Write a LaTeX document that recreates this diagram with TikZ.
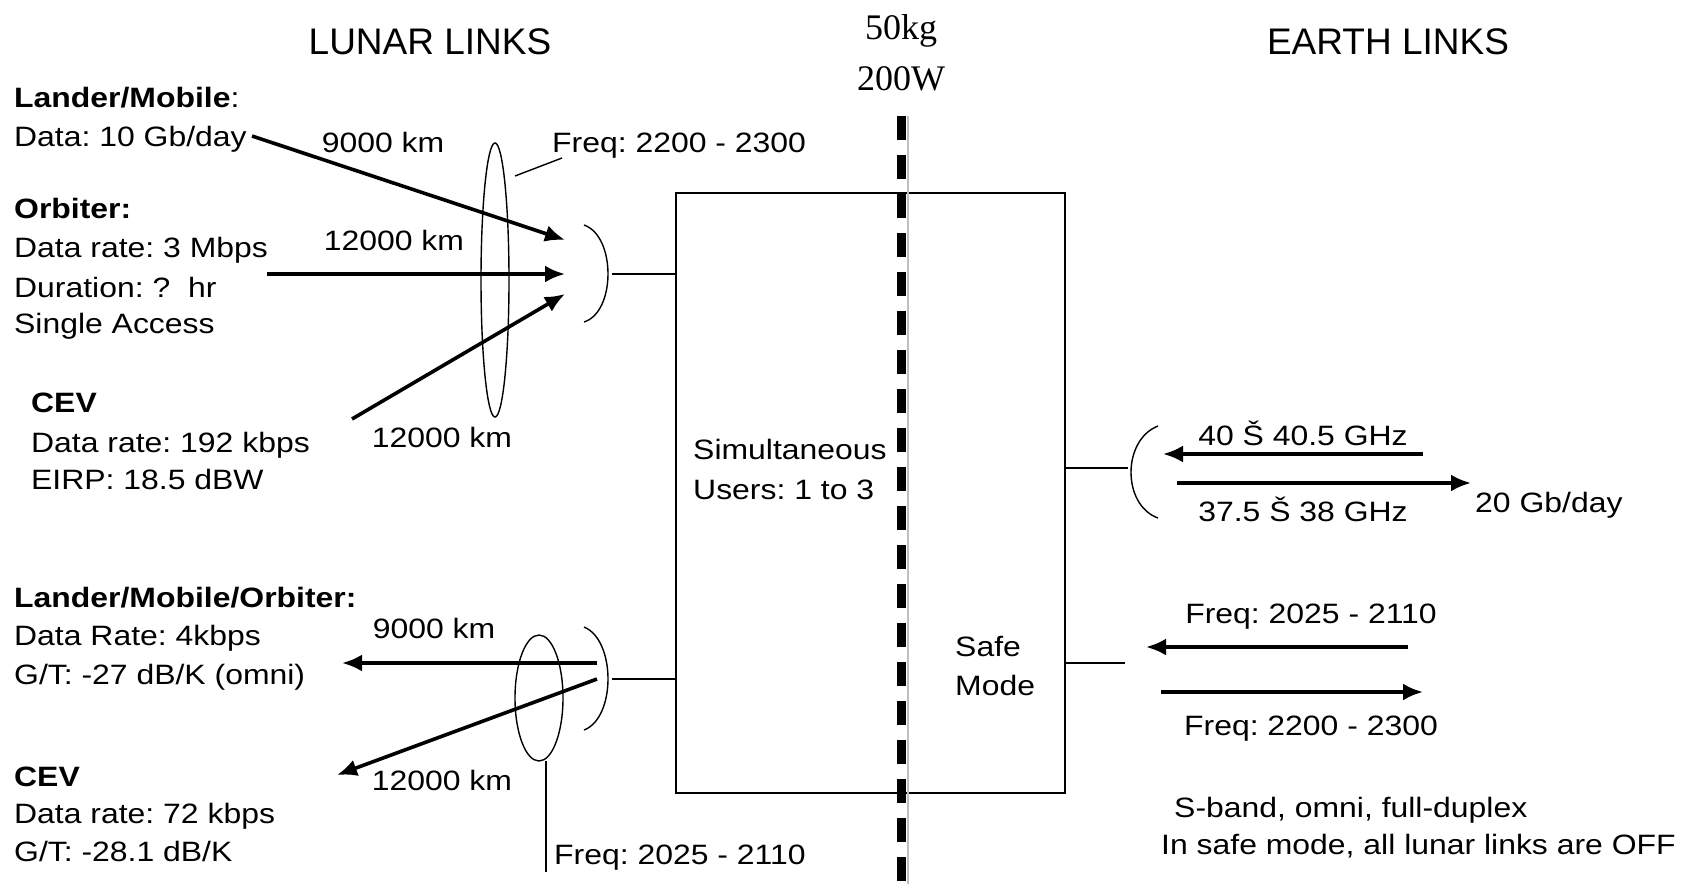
\documentclass[tikz,border=0pt]{standalone}
\usepackage{fontspec}
\setmainfont[FakeStretch=1.14]{Liberation Sans}
\newfontfamily\ttlfont{Liberation Sans}
\newfontfamily\tnr{Liberation Serif}
\usetikzlibrary{arrows.meta}
\frenchspacing
\begin{document}
\begin{tikzpicture}[x=1pt,y=-1pt,
  txt/.style={inner sep=0pt,anchor=base west,font=\fontsize{28}{34}\selectfont},
  ctxt/.style={inner sep=0pt,anchor=base,font=\fontsize{28}{34}\selectfont},
  ttl/.style={inner sep=0pt,anchor=base,font=\ttlfont\fontsize{37}{44}\selectfont},
  thin/.style={line width=1.4pt},
  big/.style={line width=3.6pt,-{Latex[length=20pt,width=17pt]}},
  sep/.style={line width=9pt,dash pattern=on 24pt off 15pt}]
\useasboundingbox (0,0) rectangle (1696,884);
\fill[white] (0,0) rectangle (1696,884);
% titles
\node[ttl] (tl) at (430,54) {LUNAR LINKS};
\node[ttl] (te) at (1388,54) {EARTH LINKS};
\node[inner sep=0pt,anchor=base,font=\tnr\fontsize{36}{42}\selectfont] (m1) at (901,39) {50kg};
\node[inner sep=0pt,anchor=base,font=\tnr\fontsize{36}{42}\selectfont] (m2) at (901,90) {200W};
% main box
\draw[thin] (676,193) rectangle (1065,793);
\coordinate (bxtl) at (676,274);
\coordinate (bxbl) at (676,679);
\coordinate (bxtr) at (1065,468);
\coordinate (bxbr) at (1065,663);
% separator
\draw[line width=1.2pt,gray!50] (908,116) -- (908,884);
\draw[sep] (901,116) -- (901,884);
% box texts
\node[txt] (s1) at (693,459) {Simultaneous};
\node[txt] (s2) at (693,499) {Users: 1 to 3};
\node[txt] (sm1) at (955,656) {Safe};
\node[txt] (sm2) at (955,695) {Mode};
% left texts top
\node[txt] (a1) at (14,107) {\textbf{Lander/Mobile}:};
\node[txt] (a2) at (14,146) {Data: 10 Gb/day};
\node[txt] (b1) at (14,218) {\textbf{Orbiter:}};
\node[txt] (b2) at (14,257) {Data rate: 3 Mbps};
\node[txt] (b3) at (14,297) {Duration: ?\ \ hr};
\node[txt] (b4) at (14,333) {Single Access};
\node[txt] (c1) at (31,412) {\textbf{CEV}};
\node[txt] (c2) at (31,452) {Data rate: 192 kbps};
\node[txt] (c3) at (31,489) {EIRP: 18.5 dBW};
% left texts bottom
\node[txt] (d1) at (14,607) {\textbf{Lander/Mobile/Orbiter:}};
\node[txt] (d2) at (14,645) {Data Rate: 4kbps};
\node[txt] (d3) at (14,684) {G/T: -27 dB/K (omni)};
\node[txt] (e1) at (14,786) {\textbf{CEV}};
\node[txt] (e2) at (14,823) {Data rate: 72 kbps};
\node[txt] (e3) at (14,861) {G/T: -28.1 dB/K};
% distance labels
\node[ctxt] (k1) at (383,152) {9000 km};
\node[ctxt] (k2) at (394,250) {12000 km};
\node[ctxt] (k3) at (442,447) {12000 km};
\node[ctxt] (k4) at (434,638) {9000 km};
\node[ctxt] (k5) at (442,790) {12000 km};
\node[txt] (f1) at (552,152) {Freq: 2200 - 2300};
\node[txt] (f2) at (554,864) {Freq: 2025 - 2110};
% top-left antenna
\coordinate (at1) at (584,225);
\coordinate (at2) at (584,322);
\coordinate (atc) at (612,274);
\draw[thin] (at1) .. controls (616,236) and (616,312) .. (at2);
\draw[thin] (atc) -- (bxtl);
\coordinate (p1) at (252,136);
\coordinate (q1) at (565,240);
\coordinate (p2) at (267,274);
\coordinate (q2) at (565,274);
\coordinate (p3) at (352,419);
\coordinate (q3) at (565,294);
\draw[big] (p1) -- (q1);
\draw[big] (p2) -- (q2);
\draw[big] (p3) -- (q3);
\draw[thin] (495,280) ellipse [x radius=14, y radius=137];
\coordinate (l1a) at (515,176);
\coordinate (l1b) at (562,158);
\draw[thin] (l1a) -- (l1b);
% bottom-left antenna
\coordinate (ab1) at (584,627);
\coordinate (ab2) at (584,730);
\coordinate (abc) at (612,679);
\draw[thin] (ab1) .. controls (616,640) and (616,718) .. (ab2);
\draw[thin] (abc) -- (bxbl);
\coordinate (r1) at (597,663);
\coordinate (s1e) at (342,663);
\coordinate (r2) at (597,679);
\coordinate (s2e) at (337,775);
\draw[big] (r1) -- (s1e);
\draw[big] (r2) -- (s2e);
\draw[thin] (539,698) ellipse [x radius=24, y radius=63];
\coordinate (l2a) at (546,761);
\coordinate (l2b) at (546,872);
\draw[thin] (l2a) -- (l2b);
% right antenna
\coordinate (ar1) at (1158,426);
\coordinate (ar2) at (1158,518);
\coordinate (arc) at (1128,468);
\draw[thin] (ar1) .. controls (1122,440) and (1122,505) .. (ar2);
\draw[thin] (bxtr) -- (arc);
\coordinate (u1) at (1423,454);
\coordinate (v1) at (1163,454);
\coordinate (u2) at (1177,483);
\coordinate (v2) at (1471,483);
\draw[big] (u1) -- (v1);
\draw[big] (u2) -- (v2);
\node[ctxt] (g1) at (1303,445) {40 Š 40.5 GHz};
\node[ctxt] (g2) at (1303,521) {37.5 Š 38 GHz};
\node[txt] (g3) at (1475,512) {20 Gb/day};
% safe mode links
\coordinate (sc) at (1125,663);
\draw[thin] (bxbr) -- (sc);
\coordinate (w1) at (1408,647);
\coordinate (x1) at (1146,647);
\coordinate (w2) at (1161,692);
\coordinate (x2) at (1423,692);
\draw[big] (w1) -- (x1);
\draw[big] (w2) -- (x2);
\node[ctxt] (h1) at (1311,623) {Freq: 2025 - 2110};
\node[ctxt] (h2) at (1311,735) {Freq: 2200 - 2300};
\node[txt] (n1) at (1174,817) {S-band, omni, full-duplex};
\node[txt] (n2) at (1161,854) {In safe mode, all lunar links are OFF};
\end{tikzpicture}
\end{document}
